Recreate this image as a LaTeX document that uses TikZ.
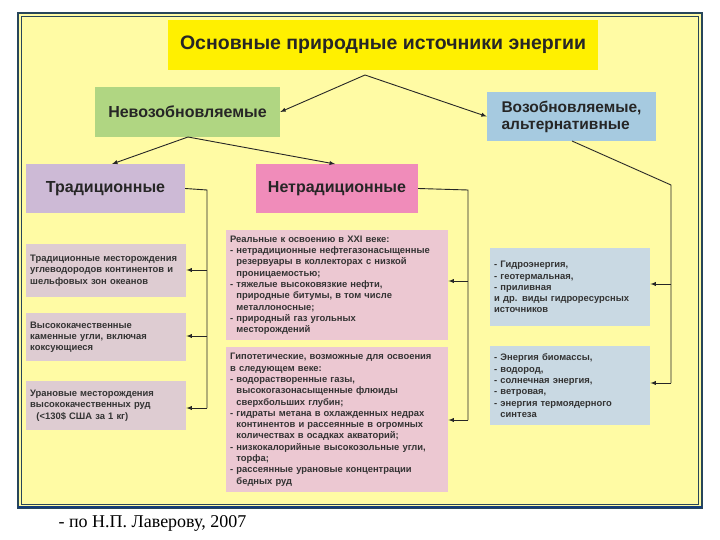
\documentclass[tikz,border=0pt]{standalone}
\usepackage{fontspec}
\setmainfont{Liberation Sans}
\newfontfamily\serifft{Liberation Serif}
\definecolor{panel}{RGB}{255,251,164}
\definecolor{frame}{RGB}{40,70,90}
\definecolor{frameb}{RGB}{20,60,120}
\definecolor{ctitle}{RGB}{255,240,0}
\definecolor{cgreen}{RGB}{176,214,130}
\definecolor{cblue}{RGB}{166,202,224}
\definecolor{cpurp}{RGB}{205,186,214}
\definecolor{cpink}{RGB}{240,140,186}
\definecolor{clb}{RGB}{222,204,210}
\definecolor{cmb}{RGB}{236,200,210}
\definecolor{crb}{RGB}{201,217,227}
\begin{document}
\begin{tikzpicture}[x=1pt,y=-1pt,
  hdr/.style={font=\bfseries, text=black!85},
  sm/.style={anchor=north west, align=left, font=\bfseries\fontsize{9.4}{11.3}\selectfont, text=black!80, inner xsep=4pt, inner ysep=5pt, text width=#1},
  conn/.style={line width=0.9pt, black!85},
  arr/.style={conn, -latex}]
\useasboundingbox (0,0) rectangle (720,540);
\fill[white] (0,0) rectangle (720,540);
\fill[panel] (18,13) rectangle (702,508);
\draw[line width=1.2pt, frame] (18,13) rectangle (702,508);
\draw[line width=0.6pt, frame] (21.5,16.5) rectangle (698.5,504.5);
\draw[line width=2.5pt, frameb] (18,507) -- (702,507);
% boxes
\node[hdr, fill=ctitle, minimum width=430, minimum height=50, font=\bfseries\fontsize{19.5}{22}\selectfont] (t) at (383,45) {Основные природные источники энергии};
\node[hdr, fill=cgreen, minimum width=185, minimum height=50, font=\bfseries\fontsize{16}{18}\selectfont] (n) at (187.5,112) {Невозобновляемые};
\node[hdr, fill=cblue, minimum width=169, minimum height=49, align=left, font=\bfseries\fontsize{15.5}{17}\selectfont] (v) at (571.5,116.5) {Возобновляемые,\\альтернативные};
\node[hdr, fill=cpurp, minimum width=159, minimum height=49, font=\bfseries\fontsize{16}{18}\selectfont] (tr) at (105.5,188.5) {Традиционные};
\node[hdr, fill=cpink, minimum width=162, minimum height=49, font=\bfseries\fontsize{16}{18}\selectfont] (nt) at (337,188.5) {Нетрадиционные};
\tikzset{lb/.style={sm=152pt, fill=clb},
         mb/.style={sm=214pt, fill=cmb},
         rb/.style={sm=152pt, fill=crb}}
\node[lb, minimum height=53, inner ysep=7pt] (l1) at (26,244) {Традиционные месторождения\\углеводородов континентов и\\шельфовых зон океанов};
\node[lb, minimum height=48, inner ysep=7pt] (l2) at (26,313) {Высококачественные\\каменные угли, включая\\коксующиеся};
\node[lb, minimum height=49, inner ysep=7pt] (l3) at (26,381) {Урановые месторождения\\высококачественных руд\\\ \ (<130\$ США за 1 кг)};
\node[mb, minimum height=110] (m1) at (226,230) {Реальные к освоению в XXI веке:\\- нетрадиционные нефтегазонасыщенные\\\ \ резервуары в коллекторах с низкой\\\ \ проницаемостью;\\- тяжелые высоковязкие нефти,\\\ \ природные битумы, в том числе\\\ \ металлоносные;\\- природный газ угольных\\\ \ месторождений};
\node[mb, minimum height=145] (m2) at (226,347) {Гипотетические, возможные для освоения\\в следующем веке:\\- водорастворенные газы,\\\ \ высокогазонасыщенные флюиды\\\ \ сверхбольших глубин;\\- гидраты метана в охлажденных недрах\\\ \ континентов и рассеянные в огромных\\\ \ количествах в осадках акваторий;\\- низкокалорийные высокозольные угли,\\\ \ торфа;\\- рассеянные урановые концентрации\\\ \ бедных руд};
\node[rb, minimum height=78, inner ysep=9pt] (r1) at (490,248) {- Гидроэнергия,\\- геотермальная,\\- приливная\\и др. виды гидроресурсных\\источников};
\node[rb, minimum height=79, inner ysep=6pt] (r2) at (490,346) {- Энергия биомассы,\\- водород,\\- солнечная энергия,\\- ветровая,\\- энергия термоядерного\\\ \ синтеза};
% connectors
\coordinate (ts) at (365,75);
\draw[arr] (ts) -- (n.east);
\draw[arr] (ts) -- (v.west);
\coordinate (nb) at (188,137);
\draw[arr] (nb) -- (112,164);
\draw[arr] (nb) -- (335,164);
\coordinate (a1) at (207,190); \coordinate (a2) at (207,408);
\draw[conn] (tr.east) -- (a1) -- (a2);
\draw[arr] (207,270) -- (l1.east |- 0,270);
\draw[arr] (207,336) -- (l2.east |- 0,336);
\draw[arr] (a2) -- (l3.east |- 0,408);
\coordinate (b1) at (468,190); \coordinate (b2) at (468,420);
\draw[conn] (nt.east) -- (b1) -- (b2);
\draw[arr] (468,281) -- (m1.east |- 0,281);
\draw[arr] (b2) -- (m2.east |- 0,420);
\coordinate (c0) at (572,141); \coordinate (c1) at (671,185); \coordinate (c2) at (671,383);
\draw[conn] (c0) -- (c1) -- (c2);
\draw[arr] (671,284) -- (r1.east |- 0,284);
\draw[arr] (c2) -- (r2.east |- 0,383);
\node[font=\serifft\fontsize{18}{20}\selectfont, anchor=west] (src) at (55,523) {- по Н.П. Лаверову, 2007};
\end{tikzpicture}
\end{document}
